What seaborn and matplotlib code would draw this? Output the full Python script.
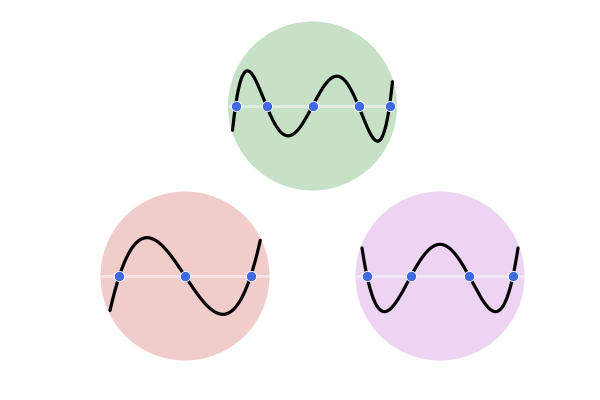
import numpy as np
import pandas as pd
import matplotlib
matplotlib.use("Agg")
import matplotlib.pyplot as plt
from matplotlib.patches import Circle
import seaborn as sns

sns.set_theme(style="white")

# ---- data (relative to circle centre, in pixels; y up) ----
names = ["quintic", "cubic", "quartic"]
roots_quintic = [-77.0, -46.0, 0.0, 46.0, 77.0]
roots_cubic = [-65.7, 0.0, 65.7]
roots_quartic = [-73.0, -29.0, 29.0, 73.0]
scale_quintic = 1.506e-7
scale_cubic = 3.51e-4
scale_quartic = 7.07e-6
span_quintic = [-80.0, 80.0]
span_cubic = [-75.0, 75.3]
span_quartic = [-78.0, 78.0]

# ---- layout / style ----
centers = {"quintic": (312.5, 106.0), "cubic": (185.0, 276.0), "quartic": (440.0, 276.0)}
radius = 84.5
fills = {"quintic": "#c6e1c6", "cubic": "#f0cccb", "quartic": "#ecd4f2"}

polys = {
    "quintic": (roots_quintic, scale_quintic, span_quintic),
    "cubic": (roots_cubic, scale_cubic, span_cubic),
    "quartic": (roots_quartic, scale_quartic, span_quartic),
}

fig = plt.figure(figsize=(6, 4), dpi=100)
ax = fig.add_axes([0, 0, 1, 1])
ax.set_xlim(0, 600)
ax.set_ylim(400, 0)
ax.axis("off")

for name in names:
    cx, cy = centers[name]
    roots, scale, span = polys[name]
    ax.add_patch(Circle((cx, cy), radius, facecolor=fills[name], edgecolor="none", zorder=0))
    ax.plot([cx - radius, cx + radius], [cy, cy], color="white", alpha=0.45, lw=2.2,
            solid_capstyle="butt", zorder=1)
    xs = np.linspace(span[0], span[1], 300)
    ys = scale * np.prod([xs - r for r in roots], axis=0)
    df = pd.DataFrame({"x": cx + xs, "y": cy - ys})
    sns.lineplot(data=df, x="x", y="y", ax=ax, color="black", lw=2.3, sort=False,
                 estimator=None, zorder=2)
    rdf = pd.DataFrame({"x": [cx + r for r in roots], "y": [cy] * len(roots)})
    sns.scatterplot(data=rdf, x="x", y="y", ax=ax, color="#4169e1", s=55,
                    edgecolor="white", linewidth=0.6, zorder=3)

ax.set_xlim(0, 600)
ax.set_ylim(400, 0)
ax.axis("off")
fig.savefig("out.png", dpi=100)
